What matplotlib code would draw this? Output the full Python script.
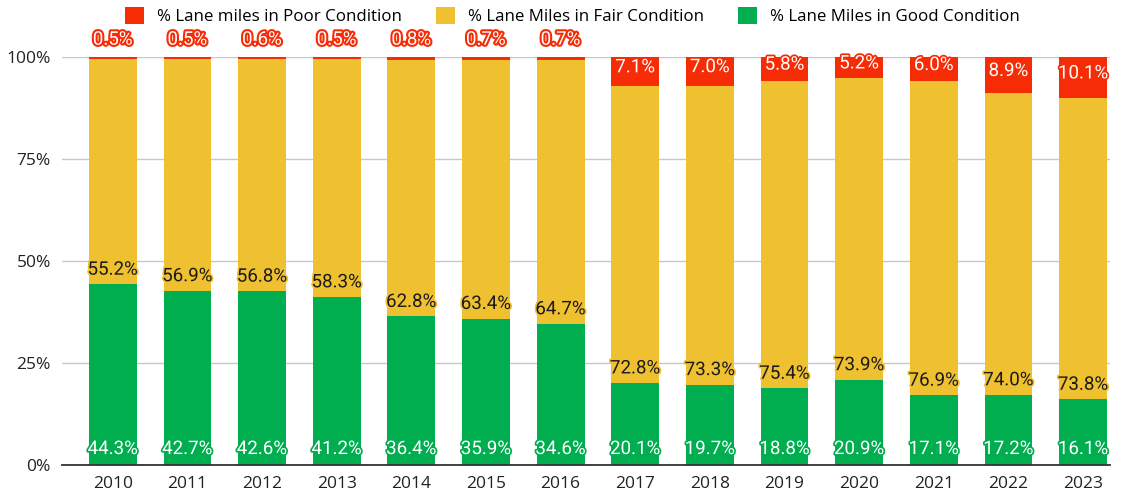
import matplotlib
matplotlib.use("Agg")
import matplotlib.pyplot as plt
import matplotlib.patheffects as pe
import numpy as np

years = ["2010", "2011", "2012", "2013", "2014", "2015", "2016",
         "2017", "2018", "2019", "2020", "2021", "2022", "2023"]
good = [44.3, 42.7, 42.6, 41.2, 36.4, 35.9, 34.6, 20.1, 19.7, 18.8, 20.9, 17.1, 17.2, 16.1]
fair = [55.2, 56.9, 56.8, 58.3, 62.8, 63.4, 64.7, 72.8, 73.3, 75.4, 73.9, 76.9, 74.0, 73.8]
poor = [0.5, 0.5, 0.6, 0.5, 0.8, 0.7, 0.7, 7.1, 7.0, 5.8, 5.2, 6.0, 8.9, 10.1]
yticks = [0, 25, 50, 75, 100]

red = "#f52c06"
yellow = "#efc030"
green = "#00ae4f"

fig = plt.figure(figsize=(11.23, 4.95), dpi=100)
ax = fig.add_axes([62 / 1123, 30 / 495, 1048 / 1123, 408 / 495])

x = np.arange(len(years))
g = np.array(good)
f = np.array(fair)
p = np.array(poor)
w = 0.64

ax.bar(x, g, w, color=green, label="% Lane Miles in Good Condition", zorder=2)
ax.bar(x, f, w, bottom=g, color=yellow, label="% Lane Miles in Fair Condition", zorder=2)
ax.bar(x, p, w, bottom=g + f, color=red, label="% Lane miles in Poor Condition", zorder=2)

lab_font = dict(family="Roboto", fontsize=13.5)
for i in range(len(years)):
    ax.annotate(f"{good[i]:.1f}%", (x[i], 0), xytext=(0, 5), textcoords="offset points",
                ha="center", va="bottom", color="white", zorder=5,
                path_effects=[pe.withStroke(linewidth=2.5, foreground=green)], **lab_font)
    ax.annotate(f"{fair[i]:.1f}%", (x[i], g[i]), xytext=(0, 4), textcoords="offset points",
                ha="center", va="bottom", color="#1a1a1a", zorder=5,
                path_effects=[pe.withStroke(linewidth=2.5, foreground=yellow)], **lab_font)
    if poor[i] < 3:
        ax.annotate(f"{poor[i]:.1f}%", (x[i], 100), xytext=(0, 6), textcoords="offset points",
                    ha="center", va="bottom", color="white", zorder=5, annotation_clip=False,
                    path_effects=[pe.withStroke(linewidth=3, foreground=red)], **lab_font)
    else:
        ax.annotate(f"{poor[i]:.1f}%", (x[i], 100 - poor[i] / 2), xytext=(0, 3),
                    textcoords="offset points", ha="center", va="center", color="white",
                    zorder=5, path_effects=[pe.withStroke(linewidth=2.5, foreground=red)],
                    **lab_font)

ax.set_xlim(-0.68, 13.36)
ax.set_ylim(0, 100)
ax.set_yticks(yticks)
ax.set_yticklabels([f"{t}%" for t in yticks])
ax.set_xticks(x)
ax.set_xticklabels(years)
ax.tick_params(length=0, labelsize=12.5, colors="#222222", pad=8)
for lbl in ax.get_xticklabels() + ax.get_yticklabels():
    lbl.set_family("Open Sans")

ax.grid(axis="y", color="#c8c8c8", linewidth=1, zorder=0)
ax.set_axisbelow(True)
for s in ["top", "right", "left"]:
    ax.spines[s].set_visible(False)
ax.spines["bottom"].set_color("#333333")
ax.spines["bottom"].set_linewidth(1.3)
ax.spines["bottom"].set_zorder(3)

handles, labels = ax.get_legend_handles_labels()
fig.legend(handles[::-1], labels[::-1], loc="upper center", bbox_to_anchor=(0.51, 1.016),
           ncol=3, frameon=False, prop={"family": "Open Sans", "size": 12.2},
           handlelength=1.1, handleheight=1.1, columnspacing=2.0, handletextpad=0.8)

fig.savefig("out.png", dpi=100)
